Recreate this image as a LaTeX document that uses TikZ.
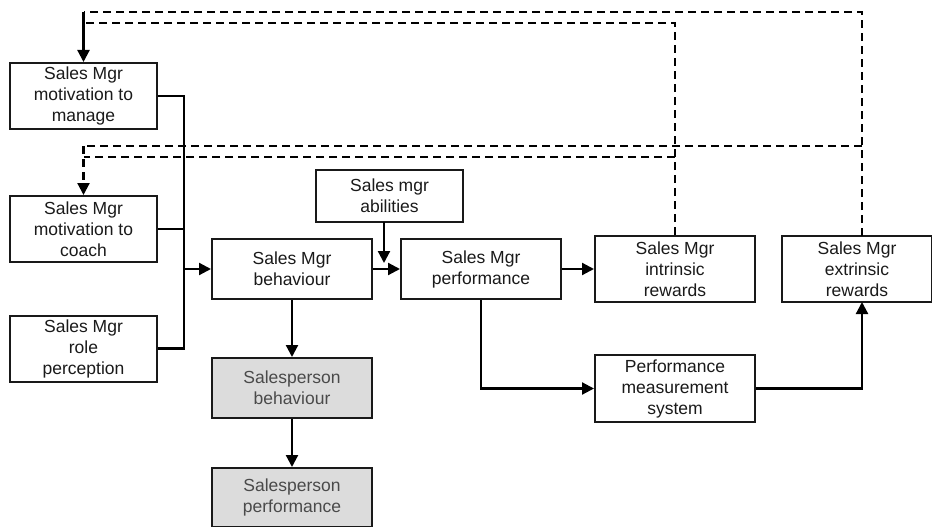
\documentclass[tikz,border=0pt]{standalone}
\usepackage{fontspec}
\setmainfont{Liberation Sans}
\usetikzlibrary{arrows.meta}
\definecolor{txt}{HTML}{1A1A1A}
\definecolor{graytxt}{HTML}{4A4A4A}
\definecolor{grayfill}{HTML}{DCDCDC}
\begin{document}
\begin{tikzpicture}[x=1pt,y=-1pt,
  box/.style={draw=black!90,line width=2pt,fill=white,align=center,inner sep=0pt,
    font=\fontsize{17.5}{21}\selectfont,text=txt},
  gbox/.style={box,fill=grayfill,text=graytxt},
  conn/.style={line width=2.2pt,draw=black},
  arr/.style={conn,-{Triangle[length=12pt,width=12pt]}},
  dsh/.style={conn,dash pattern=on 8pt off 5pt}]
\useasboundingbox (0,0) rectangle (932,527);
\node[box,minimum width=147pt,minimum height=66pt] (man) at (83.5,96) {Sales Mgr\\motivation to\\manage};
\node[box,minimum width=147pt,minimum height=66pt] (coach) at (83.5,229) {Sales Mgr\\motivation to\\coach};
\node[box,minimum width=147pt,minimum height=66pt] (role) at (83.5,348.5) {Sales Mgr\\role\\perception};
\node[box,minimum width=160pt,minimum height=60pt] (beh) at (292,269) {Sales Mgr\\behaviour};
\node[gbox,minimum width=160pt,minimum height=60pt] (spb) at (292,388) {Salesperson\\behaviour};
\node[gbox,minimum width=160pt,minimum height=59pt] (spp) at (292,497.5) {Salesperson\\performance};
\node[box,minimum width=147pt,minimum height=52pt] (abil) at (389.5,196) {Sales mgr\\abilities};
\node[box,minimum width=160pt,minimum height=60pt] (perf) at (481,269) {Sales Mgr\\performance};
\node[box,minimum width=160pt,minimum height=66pt] (intr) at (675,269) {Sales Mgr\\intrinsic\\rewards};
\node[box,minimum width=150pt,minimum height=66pt] (extr) at (857,269) {Sales Mgr\\extrinsic\\rewards};
\node[box,minimum width=160pt,minimum height=67pt] (pms) at (675,388.5) {Performance\\measurement\\system};
% junctions
\coordinate (J) at (184,269);
\coordinate (A) at (384,263);
\coordinate (AT) at (384,222);
\coordinate (EN) at (862,236);
\coordinate (ES) at (862,302);
\coordinate (T1) at (83.5,12);
\coordinate (T2) at (83.5,23);
\coordinate (M1) at (83.5,146);
\coordinate (M2) at (83.5,157);
% solid connectors
\draw[conn] (man.east) -| (J) |- (role.east);
\draw[conn] (coach.east) -- (coach.east -| J);
\draw[arr] (J) -- (beh.west);
\draw[arr] (beh.east) -- (perf.west);
\draw[arr] (AT) -- (A);
\draw[arr] (beh.south) -- (spb.north);
\draw[arr] (spb.south) -- (spp.north);
\draw[arr] (perf.east) -- (intr.west);
\draw[arr] (perf.south) |- (pms.west);
\draw[arr] (pms.east) -| (ES);
% feedback (dashed)
\draw[dsh] (EN) |- (T1);
\draw[dsh] (intr.north) |- (T2);
\draw[arr] (T1) -- (man.north);
\draw[dsh] (EN |- M1) -- (M1);
\draw[dsh] (intr.north |- M2) -- (M2);
\draw[arr,dash pattern=on 8pt off 5pt] (M1) -- (coach.north);
\end{tikzpicture}
\end{document}
